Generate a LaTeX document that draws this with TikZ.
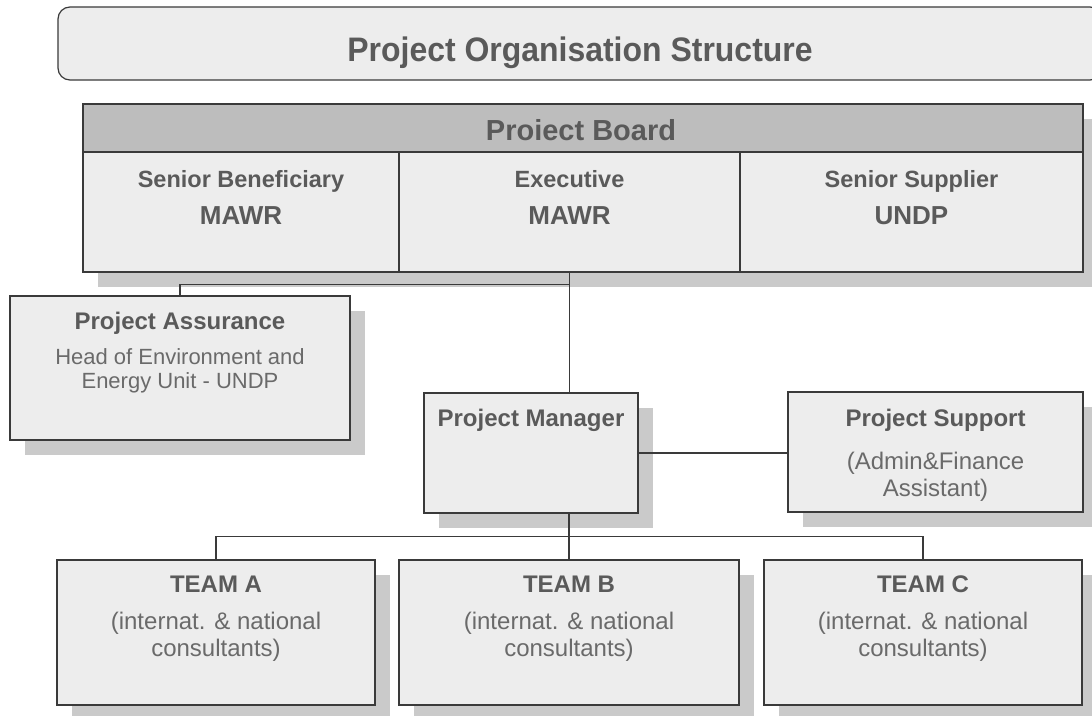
\documentclass[tikz,border=0pt]{standalone}
\usepackage{fontspec}
\setmainfont{Liberation Sans}
\newfontfamily\titlefont[FakeStretch=0.94]{Liberation Sans}
\usetikzlibrary{calc,shadows}
\definecolor{boxfill}{HTML}{EDEDED}
\definecolor{headfill}{HTML}{BDBDBD}
\definecolor{edge}{HTML}{3A3A3A}
\definecolor{shade}{HTML}{CACACA}
\definecolor{headtext}{HTML}{5A5A5A}
\definecolor{bodytext}{HTML}{6A6A6A}
\begin{document}
\begin{tikzpicture}[x=1pt,y=-1pt,
  box/.style={rectangle, draw=edge, line width=1.2pt, fill=boxfill, inner sep=0pt,
    drop shadow={shadow xshift=15pt, shadow yshift=-15pt, fill=shade, opacity=1}},
  cell/.style={rectangle, draw=edge, line width=1.2pt, fill=boxfill, inner sep=0pt},
  wire/.style={draw=edge, line width=1.2pt},
  hd/.style={anchor=base, inner sep=0pt, text=headtext, font=\bfseries\fontsize{24}{28}\selectfont},
  tx/.style={anchor=base, inner sep=0pt, text=bodytext, font=\fontsize{24}{28}\selectfont}]

\clip (0,0) rectangle (1092,715);
\fill[white] (0,0) rectangle (1092,715);

% title banner
\node[cell, rounded corners=12pt, minimum width=1044pt, minimum height=73pt] (title) at (580,43.5) {};
\node[anchor=base, inner sep=0pt, text=headtext, font=\titlefont\bfseries\fontsize{34}{40}\selectfont]
  (titletext) at (580,61) {Project Organisation Structure};

% project board
\node[box, minimum width=1000pt, minimum height=168pt] (board) at (583,188) {};
\node[cell, fill=headfill, minimum width=1000pt, minimum height=48pt] (boardhead) at (583,128) {};
\node[cell, minimum width=316pt, minimum height=120pt] (sb) at (241,212) {};
\node[cell, minimum width=341pt, minimum height=120pt] (exec) at (569.5,212) {};
\node[cell, minimum width=343pt, minimum height=120pt] (ss) at (911.5,212) {};
\node[hd, font=\bfseries\fontsize{29}{34}\selectfont] (boardtext) at (581,140) {Proiect Board};
\node[hd, font=\bfseries\fontsize{23.5}{28}\selectfont] (sb1) at (241,187) {Senior Beneficiary};
\node[hd, font=\bfseries\fontsize{26}{30}\selectfont] (sb2) at (241,224) {MAWR};
\node[hd, font=\bfseries\fontsize{23.5}{28}\selectfont] (ex1) at (569.5,187) {Executive};
\node[hd, font=\bfseries\fontsize{26}{30}\selectfont] (ex2) at (569.5,224) {MAWR};
\node[hd, font=\bfseries\fontsize{23.5}{28}\selectfont] (ss1) at (911.5,187) {Senior Supplier};
\node[hd, font=\bfseries\fontsize{26}{30}\selectfont] (ss2) at (911.5,224) {UNDP};

% project assurance
\node[box, minimum width=340pt, minimum height=144pt] (pa) at (180,368) {};
\node[hd] (pa1) at (180,329) {Project Assurance};
\node[tx, font=\fontsize{22}{26}\selectfont] (pa2) at (180,364) {Head of Environment and};
\node[tx, font=\fontsize{22}{26}\selectfont] (pa3) at (180,388) {Energy Unit - UNDP};

% project manager and support
\node[box, minimum width=214pt, minimum height=120pt] (pm) at (531,453) {};
\node[hd] (pm1) at (531,426) {Project Manager};
\node[box, minimum width=295pt, minimum height=120pt] (ps) at (935.5,452) {};
\node[hd] (ps1) at (935.5,426) {Project Support};
\node[tx] (ps2) at (935.5,469) {(Admin\&Finance};
\node[tx] (ps3) at (935.5,496) {Assistant)};

% teams
\node[box, minimum width=318pt, minimum height=145pt] (ta) at (216,632.5) {};
\node[box, minimum width=340pt, minimum height=145pt] (tb) at (569,632.5) {};
\node[box, minimum width=318pt, minimum height=145pt] (tc) at (923,632.5) {};
\foreach \t/\n in {ta/A, tb/B, tc/C}{
  \node[hd] (\t1) at ($(\t.north)+(0,33)$) {TEAM \n};
  \node[tx] (\t2) at ($(\t.north)+(0,70)$) {(internat. \& national};
  \node[tx] (\t3) at ($(\t.north)+(0,97)$) {consultants)};
}

% connectors
\coordinate (j1) at ($(exec.south)+(0,12)$);
\draw[wire] (exec.south) -- (exec.south |- pm.north);
\draw[wire] (j1) -| (pa.north);
\draw[wire] (pm.east) -- (pm.east -| ps.west);
\coordinate (j2) at ($(pm.south -| tb.north)+(0,23)$);
\draw[wire] (pm.south -| tb.north) -- (tb.north);
\draw[wire] (ta.north) -- (ta.north |- j2) -- (tc.north |- j2) -- (tc.north);
\end{tikzpicture}
\end{document}
